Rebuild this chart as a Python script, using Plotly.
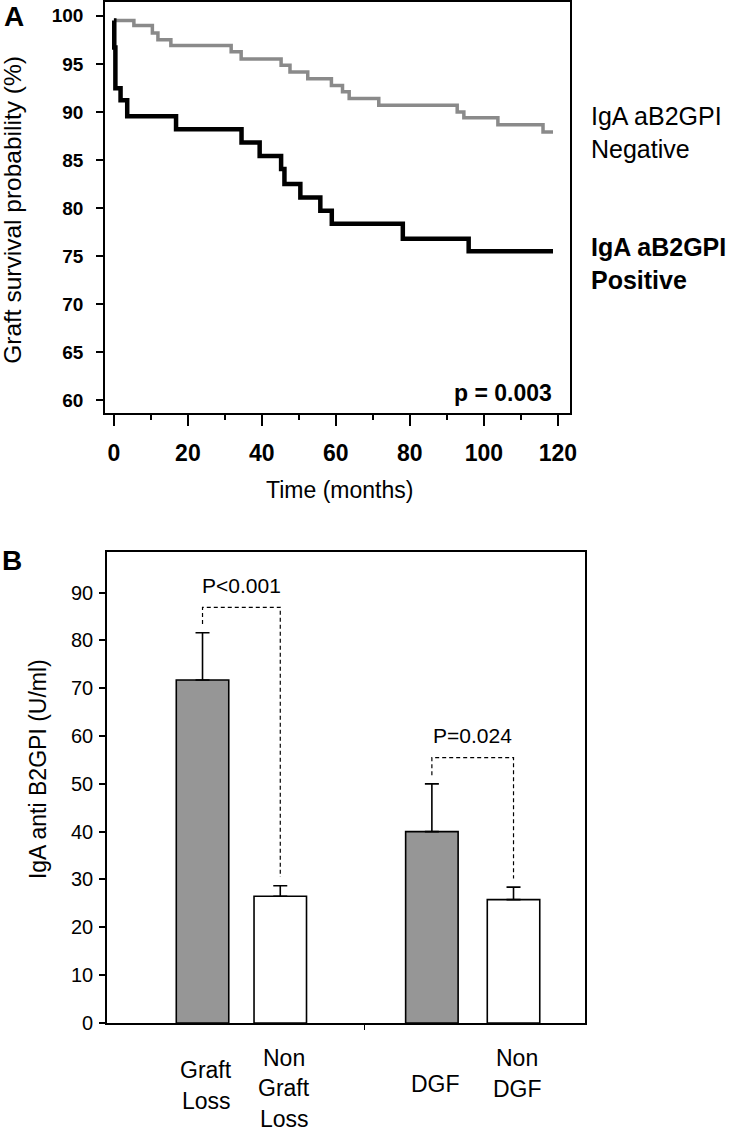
import plotly.graph_objects as go

# ---------------- Data ----------------
# Panel A: Kaplan-Meier step curves (time in months, survival %)
neg_times = [0, 5.4, 10.4, 11.9, 15.4, 31.7, 34.4, 45.2, 47.6, 52.4, 58.8, 61.8, 63.6, 71.6, 92.8, 94.6, 103.8, 116.0, 118.7]
neg_surv = [99.5, 99.0, 98.2, 97.5, 96.9, 96.25, 95.5, 94.85, 94.15, 93.45, 92.75, 92.1, 91.4, 90.7, 90.0, 89.4, 88.65, 87.9, 87.9]
pos_times = [0, 0.1, 0.4, 1.8, 3.6, 16.8, 34.5, 39.4, 45.2, 46.1, 50.4, 55.8, 58.9, 78.1, 95.9, 118.7]
pos_surv = [99.5, 96.7, 92.45, 91.2, 89.55, 88.2, 86.8, 85.4, 84.05, 82.5, 81.1, 79.7, 78.35, 76.8, 75.5, 75.5]
a_yticks = [60, 65, 70, 75, 80, 85, 90, 95, 100]
a_xticks = [0, 20, 40, 60, 80, 100, 120]
a_xminor = [10, 30, 50, 70, 90, 110]
p_value_a = "p = 0.003"
curve_labels = ["IgA aB2GPI<br>Negative", "IgA aB2GPI<br>Positive"]

# Panel B: bar chart
categories = [["Graft", "Loss"], ["Non", "Graft", "Loss"], ["DGF"], ["Non", "DGF"]]
bar_pos = [1.0, 2.0, 3.95, 5.0]
bar_vals = [71.7, 26.5, 40.0, 25.8]
bar_err_top = [81.6, 28.7, 50.0, 28.4]
bar_colors = ["#969696", "#ffffff", "#969696", "#ffffff"]
b_yticks = [0, 10, 20, 30, 40, 50, 60, 70, 80, 90]
brackets = [  # (left bar index, right bar index, bracket level, label)
    (0, 1, 86.9, "P<0.001"),
    (2, 3, 55.5, "P=0.024"),
]
group_divider = [3.08]

# ---------------- Figure ----------------
W, H = 733, 1136
FONT = "Liberation Sans, Arial, Helvetica, sans-serif"


def px(x):
    return x / W


def py(y):
    return 1 - y / H


fig = go.Figure()

fig.add_trace(go.Scatter(x=neg_times, y=neg_surv, mode="lines", line=dict(shape="hv", color="#8a8a8a", width=3.5),
                         xaxis="x", yaxis="y", showlegend=False, hoverinfo="skip"))
fig.add_trace(go.Scatter(x=pos_times, y=pos_surv, mode="lines", line=dict(shape="hv", color="#000000", width=4.5),
                         xaxis="x", yaxis="y", showlegend=False, hoverinfo="skip"))

fig.add_trace(go.Bar(
    x=bar_pos, y=bar_vals, width=0.675,
    marker=dict(color=bar_colors, line=dict(color="black", width=1.6)),
    error_y=dict(type="data", symmetric=False,
                 array=[e - v for e, v in zip(bar_err_top, bar_vals)],
                 arrayminus=[0] * len(bar_vals),
                 color="black", thickness=1.6, width=7),
    xaxis="x2", yaxis="y2", showlegend=False, hoverinfo="skip"))

annotations = []
gap = 1.8
for li, ri, level, label in brackets:
    xl, xr = bar_pos[li], bar_pos[ri]
    fig.add_trace(go.Scatter(
        x=[xl, xl, xr, xr],
        y=[bar_err_top[li] + gap, level, level, bar_err_top[ri] + gap],
        mode="lines", line=dict(color="black", width=1.2, dash="4px,3px"),
        xaxis="x2", yaxis="y2", showlegend=False, hoverinfo="skip"))
    annotations.append(dict(x=(xl + xr) / 2, y=level + 4.5, xref="x2", yref="y2", text=label,
                            showarrow=False, font=dict(family=FONT, size=21, color="black"),
                            xanchor="center", yanchor="middle"))

# category labels (multi-line, each line separately)
label_center_px = [1096, 1099, 1095, 1084]
line_gap = 31
for cat, xpos, yc in zip(categories, bar_pos, label_center_px):
    n = len(cat)
    for i, t in enumerate(cat):
        yy = yc - (n - 1) / 2 * line_gap + i * line_gap
        annotations.append(dict(x=xpos + 0.05, y=py(yy), xref="x2", yref="paper", text=t, showarrow=False,
                                font=dict(family=FONT, size=23, color="black"),
                                xanchor="center", yanchor="middle"))

# panel letters
annotations.append(dict(x=px(14), y=py(17), xref="paper", yref="paper", text="A", showarrow=False,
                        font=dict(family=FONT, size=28, color="black", weight="bold"), xanchor="center", yanchor="middle"))
annotations.append(dict(x=px(12), y=py(566), xref="paper", yref="paper", text="B", showarrow=False,
                        font=dict(family=FONT, size=28, color="black", weight="bold"), xanchor="center", yanchor="middle"))

# axis titles
annotations.append(dict(x=px(13), y=py(212), xref="paper", yref="paper", text="Graft survival probability (%)",
                        textangle=-90, showarrow=False, font=dict(family=FONT, size=24.5, color="black"),
                        xanchor="center", yanchor="middle"))
annotations.append(dict(x=px(343), y=py(495), xref="paper", yref="paper", text="Time (months)",
                        showarrow=False, font=dict(family=FONT, size=23, color="black"),
                        xanchor="center", yanchor="middle"))
annotations.append(dict(x=px(39), y=py(777), xref="paper", yref="paper", text="IgA anti B2GPI (U/ml)",
                        textangle=-90, showarrow=False, font=dict(family=FONT, size=23, color="black"),
                        xanchor="center", yanchor="middle"))

# curve labels
for txt, yy, bold in [(curve_labels[0], 134, False), (curve_labels[1], 266, True)]:
    annotations.append(dict(x=px(595), y=py(yy), xref="paper", yref="paper", text=txt, showarrow=False,
                            align="left",
                            font=dict(family=FONT, size=25, color="black", weight="bold" if bold else "normal"),
                            xanchor="left", yanchor="middle"))

annotations.append(dict(x=px(559), y=py(397), xref="paper", yref="paper", text=p_value_a, showarrow=False,
                        font=dict(family=FONT, size=23, color="black", weight="bold"),
                        xanchor="right", yanchor="middle"))

axis_common = dict(showline=True, linecolor="black", linewidth=1.5, mirror=True, showgrid=False,
                   zeroline=False, ticks="outside", tickcolor="black")

fig.update_layout(
    width=W, height=H,
    margin=dict(l=0, r=0, t=0, b=0),
    paper_bgcolor="white", plot_bgcolor="white",
    font=dict(family=FONT, color="black"),
    showlegend=False,
    annotations=annotations,
    xaxis=dict(domain=[px(106), px(575)], range=[-2.41, 123.16], anchor="y",
               tickvals=a_xticks, ticklen=11, tickwidth=1.5,
               tickfont=dict(family=FONT, size=23, color="black", weight="bold"),
               ticklabelstandoff=8,
               minor=dict(tickvals=a_xminor, ticks="outside", ticklen=5, tickwidth=1.5, tickcolor="black"),
               **axis_common),
    yaxis=dict(domain=[py(417), py(2)], range=[58.66, 101.44], anchor="x",
               tickvals=a_yticks, ticklen=7, tickwidth=1.5,
               tickfont=dict(family=FONT, size=19, color="black", weight="bold"),
               ticklabelstandoff=9,
               **axis_common),
    xaxis2=dict(domain=[px(108), px(591)], range=[-0.229, 5.924], anchor="y2",
                tickvals=group_divider, ticktext=[""], ticklen=5, tickwidth=1,
                **axis_common),
    yaxis2=dict(domain=[py(1033), py(557)], range=[0, 98.55], anchor="x2",
                tickvals=b_yticks, ticklen=6, tickwidth=1.5,
                tickfont=dict(family=FONT, size=20, color="black"),
                ticklabelstandoff=2,
                **axis_common),
)

fig.write_html("out.html", config={"displayModeBar": False},
               post_script="document.body.style.margin='0px';document.body.style.overflow='hidden';")
